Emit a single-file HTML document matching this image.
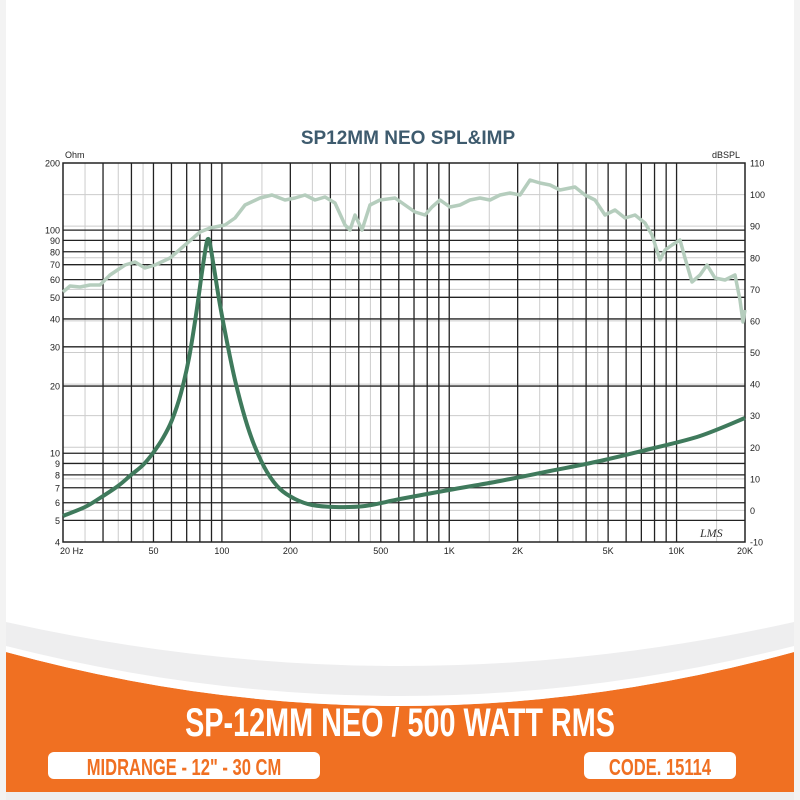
<!DOCTYPE html>
<html><head><meta charset="utf-8"><style>
body{margin:0;width:800px;height:800px;overflow:hidden;background:#f3f3f3;font-family:"Liberation Sans",sans-serif}
</style></head><body>
<svg id="s" width="800" height="800" viewBox="0 0 800 800" xmlns="http://www.w3.org/2000/svg" style="position:absolute;left:0;top:0">
<rect x="6" y="0" width="788" height="792" fill="#fff"/>
<path d="M6 622 Q400 710 794 622 L794 800 L6 800 Z" fill="#eeeeef"/>
<path d="M6 652 Q400 760 794 652 L794 792 L6 792 Z" fill="#f07022"/>
<path d="M6 646 Q400 746 794 646 L794 652 Q400 760 6 652 Z" fill="#fff"/>
<text x="408" y="144" text-anchor="middle" font-size="19" font-weight="bold" fill="#3e5b6e">SP12MM NEO SPL&amp;IMP</text>
<g id="grid"></g>
<g id="curves"></g>
<text x="700" y="537" font-size="12" font-style="italic" fill="#333" font-family="Liberation Serif,serif">LMS</text>
<g transform="translate(400,736) scale(0.72,1)"><text x="0" y="0" text-anchor="middle" font-size="40" font-weight="bold" fill="#fff">SP-12MM NEO / 500 WATT RMS</text></g>
<rect x="48" y="752" width="272" height="27" rx="6" fill="#fff"/>
<rect x="584" y="752" width="152" height="27" rx="6" fill="#fff"/>
<g transform="translate(184,775) scale(0.72,1)"><text x="0" y="0" text-anchor="middle" font-size="23" font-weight="bold" fill="#f07022">MIDRANGE - 12" - 30 CM</text></g>
<g transform="translate(660,775) scale(0.72,1)"><text x="0" y="0" text-anchor="middle" font-size="23" font-weight="bold" fill="#f07022">CODE. 15114</text></g>
</svg>
<script>
const X0=63,X1=745,Y0=163,Y1=542;
const fx=f=>X0+(Math.log10(f/20))*(X1-X0)/3;
const zy=z=>Y1-Math.log10(z/4)*(Y1-Y0)/Math.log10(50);
let g='';
for(let k=0;k<=12;k++){const y=Y0+k*(Y1-Y0)/12;g+=`<line x1="${X0}" x2="${X1}" y1="${y}" y2="${y}" stroke="#ccc" stroke-width="1"/>`;}
[25,35,45,150,250,350,450,1500,2500,3500,4500,15000].forEach(f=>{const x=fx(f);g+=`<line x1="${x}" x2="${x}" y1="${Y0}" y2="${Y1}" stroke="#ccc"/>`;});
[30,40,50,60,70,80,90,100,200,300,400,500,600,700,800,900,1000,2000,3000,4000,5000,6000,7000,8000,9000,10000].forEach(f=>{const x=fx(f);g+=`<line x1="${x}" x2="${x}" y1="${Y0}" y2="${Y1}" stroke="#222" stroke-width="1.3"/>`;});
[5,6,7,8,9,10,20,30,40,50,60,70,80,90,100].forEach(z=>{const y=zy(z);g+=`<line x1="${X0}" x2="${X1}" y1="${y}" y2="${y}" stroke="#222" stroke-width="1.3"/>`;});
g+=`<rect x="${X0}" y="${Y0}" width="${X1-X0}" height="${Y1-Y0}" fill="none" stroke="#222" stroke-width="1.5"/>`;
const t=(x,y,s,a)=>`<text x="${x}" y="${y}" font-size="9" fill="#222" text-anchor="${a||'end'}">${s}</text>`;
[4,5,6,7,8,9,10,20,30,40,50,60,70,80,90,100,200].forEach(z=>g+=t(60,zy(z)+3.5,z));
g+=t(65,158,'Ohm','start');g+=t(740,158,'dBSPL','end');
for(let k=0;k<=12;k++){g+=t(750,Y0+k*(Y1-Y0)/12+3.5,110-10*k,'start');}
[[20,'20  Hz'],[50,'50'],[100,'100'],[200,'200'],[500,'500'],[1000,'1K'],[2000,'2K'],[5000,'5K'],[10000,'10K'],[20000,'20K']].forEach(([f,s],i)=>g+=t(i==0?60:fx(f),554,s,i==0?'start':'middle'));
document.getElementById('grid').innerHTML=g;
function cr(pts){let d='M'+pts[0][0]+' '+pts[0][1];for(let i=0;i<pts.length-1;i++){const p0=pts[Math.max(i-1,0)],p1=pts[i],p2=pts[i+1],p3=pts[Math.min(i+2,pts.length-1)];const c1=[p1[0]+(p2[0]-p0[0])/6,p1[1]+(p2[1]-p0[1])/6],c2=[p2[0]-(p3[0]-p1[0])/6,p2[1]-(p3[1]-p1[1])/6];d+=`C${c1[0].toFixed(1)} ${c1[1].toFixed(1)} ${c2[0].toFixed(1)} ${c2[1].toFixed(1)} ${p2[0]} ${p2[1]}`;}return d;}
const imp=[[63,516],[85,507],[100,498],[118,486],[131,475],[143,465],[153,453],[163,438],[172,420],[181,393],[189,358],[196,315],[202,272],[206,246],[208,239],[210,244],[214,268],[220,305],[227,342],[235,380],[245,418],[255,447],[267,472],[280,489],[295,499],[312,505],[335,507],[365,506],[400,499],[449,490],[500,481],[550,471],[600,461],[650,449],[700,436],[745,418]];
const sp=[[63,292],[70,286],[80,287],[90,285],[100,285],[110,275],[125,265],[135,262],[145,268],[155,265],[170,258],[185,245],[200,232],[210,228],[225,225],[235,218],[245,205],[260,198],[272,195],[285,200],[295,198],[305,195],[315,200],[325,197],[335,203],[345,225],[350,230],[355,215],[362,230],[370,205],[380,200],[395,198],[405,205],[415,212],[425,215],[432,207],[440,200],[450,207],[460,205],[470,200],[480,198],[490,200],[500,195],[510,193],[520,195],[530,180],[540,183],[550,185],[560,190],[575,187],[585,195],[595,200],[605,215],[615,210],[625,218],[635,215],[645,223],[652,235],[660,260],[665,250],[672,245],[680,240],[685,258],[692,282],[700,275],[707,265],[715,278],[725,280],[735,275],[740,300],[743,322],[745,310]];
const sps='M'+sp.map(a=>a.join(' ')).join('L');
document.getElementById('curves').innerHTML=`<path d="${sps}" fill="none" stroke="#b5cdbd" stroke-width="3.5" stroke-linejoin="round"/><path d="${cr(imp)}" fill="none" stroke="#3f7a5c" stroke-width="4" stroke-linejoin="round"/>`;
</script>
</body></html>
